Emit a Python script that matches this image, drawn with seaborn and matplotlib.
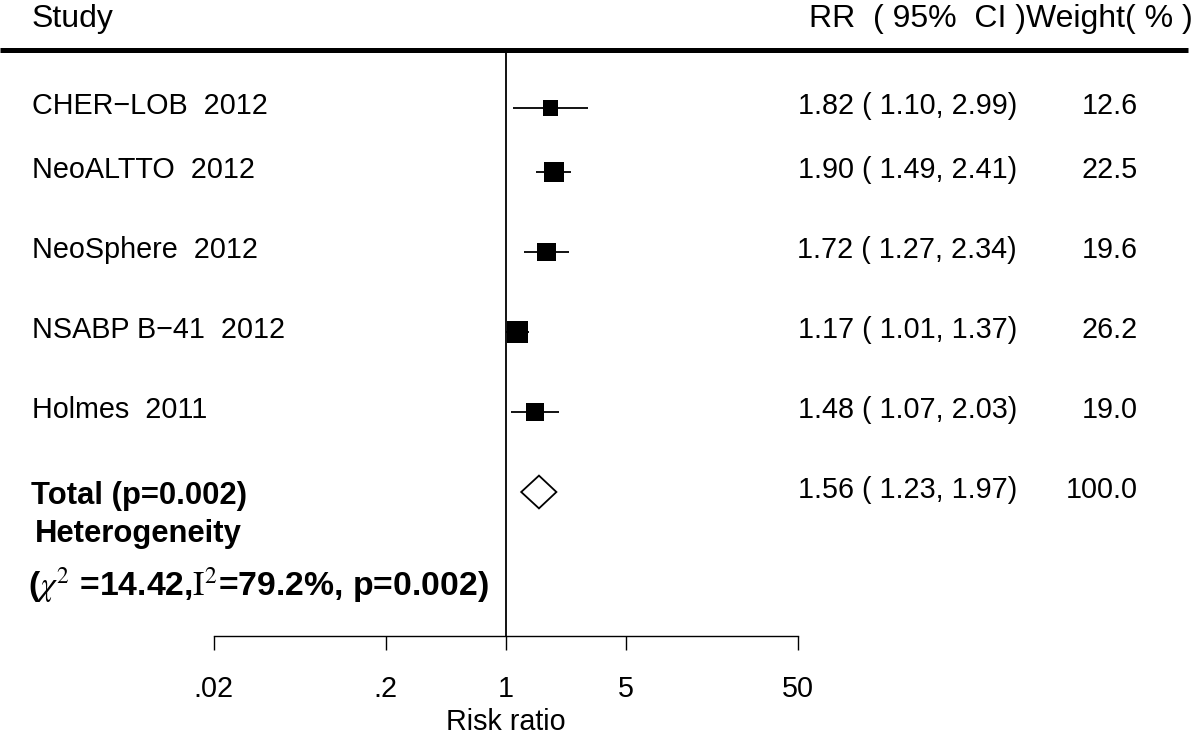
import numpy as np
import pandas as pd
import matplotlib
matplotlib.use("Agg")
import matplotlib.pyplot as plt
import matplotlib.transforms as mtransforms
from matplotlib.lines import Line2D
import seaborn as sns

# ---------------- data ----------------
studies = ["CHER\u2212LOB  2012", "NeoALTTO  2012", "NeoSphere  2012",
           "NSABP B\u221241  2012", "Holmes  2011"]
rr = [1.82, 1.90, 1.72, 1.17, 1.48]
ci_low = [1.10, 1.49, 1.27, 1.01, 1.07]
ci_high = [2.99, 2.41, 2.34, 1.37, 2.03]
weights = [12.6, 22.5, 19.6, 26.2, 19.0]

total_label = "Total (p=0.002)"
total_rr = 1.56
total_low = 1.23
total_high = 1.97
total_weight = 100.0
het_label = "Heterogeneity"
het_stats = r"($\chi^2$ =14.42,$\mathrm{I}^2$=79.2%, p=0.002)"

tick_values = [0.02, 0.2, 1, 5, 50]
tick_labels = [".02", ".2", "1", "5", "50"]
x_label = "Risk ratio"
header_left = "Study"
header_right = "RR  ( 95%  CI )Weight( % )"

# ---------------- style ----------------
sns.set_theme(style="white")
plt.rcParams["font.family"] = ["Liberation Sans", "DejaVu Sans"]
plt.rcParams["mathtext.fontset"] = "stix"
plt.rcParams["text.color"] = "black"
plt.rcParams["axes.labelcolor"] = "black"
plt.rcParams["xtick.color"] = "black"

W, H = 1200, 739
fig = plt.figure(figsize=(W / 100, H / 100), dpi=100)
fig.patch.set_facecolor("white")

# axes region (pixels): x from .02 -> 50, y from header rule to axis line
x0_px, x1_px = 213.5, 798.0
ytop_px, ybot_px = 50.0, 636.0
ax = fig.add_axes([x0_px / W, 1 - ybot_px / H, (x1_px - x0_px) / W, (ybot_px - ytop_px) / H])

# layout: row positions (units of 80 px, origin at first row)
row_y = [0.0, 0.8, 1.8, 2.8, 3.8]
total_y = 4.8
het_y = 5.33
stats_y = 5.97
ax.set_ylim((ybot_px - 108) / 80, (ytop_px - 108) / 80)

df = pd.DataFrame({"study": studies, "rr": rr, "lo": ci_low, "hi": ci_high,
                   "w": weights, "y": row_y})

ax.set_xscale("log")
ax.set_xlim(tick_values[0], tick_values[-1])

# reference line at 1
ax.axvline(1, color="black", lw=1.3, zorder=1)

# confidence intervals
ax.hlines(df["y"], df["lo"], df["hi"], color="black", lw=1.3, zorder=2)

# weighted squares
k = 9.36
sns.scatterplot(data=df, x="rr", y="y", size="w", marker="s",
                sizes=(k * min(weights), k * max(weights)),
                size_norm=(min(weights), max(weights)),
                color="black", edgecolor="none", linewidth=0,
                legend=False, ax=ax, zorder=3)

# pooled diamond
dh = 0.205
ax.fill([total_low, total_rr, total_high, total_rr],
        [total_y, total_y - dh, total_y, total_y + dh],
        facecolor="white", edgecolor="black", lw=1.3, zorder=3)

fs = 20.7

# axis styling
for s in ["top", "right", "left"]:
    ax.spines[s].set_visible(False)
ax.spines["bottom"].set_linewidth(1.0)
ax.spines["bottom"].set_color("black")
ax.set_yticks([])
ax.set_xticks(tick_values)
ax.set_xticklabels(tick_labels)
ax.xaxis.set_minor_locator(matplotlib.ticker.NullLocator())
ax.tick_params(axis="x", direction="out", length=10, width=1.0, color="black",
               labelsize=fs, pad=18, bottom=True)
ax.set_xlabel(x_label, fontsize=fs, labelpad=4)
ax.set_ylabel("")
ax.patch.set_alpha(0)

trans = mtransforms.blended_transform_factory(fig.transFigure, ax.transData)

# left study labels and right columns
for i, r in df.iterrows():
    ax.text(32 / W, r["y"] - 0.03, r["study"], transform=trans, ha="left",
            va="center", fontsize=fs, clip_on=False)
    ax.text(1017 / W, r["y"] - 0.03, f"{r['rr']:.2f} ( {r['lo']:.2f}, {r['hi']:.2f})",
            transform=trans, ha="right", va="center", fontsize=fs, clip_on=False)
    ax.text(1138 / W, r["y"] - 0.03, f"{r['w']:.1f}", transform=trans, ha="right",
            va="center", fontsize=fs, clip_on=False)

bfs = 22.3
ax.text(31 / W, total_y + 0.05, total_label, transform=trans, ha="left", va="center",
        fontsize=bfs, fontweight="bold", clip_on=False)
ax.text(1017 / W, total_y - 0.03, f"{total_rr:.2f} ( {total_low:.2f}, {total_high:.2f})",
        transform=trans, ha="right", va="center", fontsize=fs, clip_on=False)
ax.text(1138 / W, total_y - 0.03, f"{total_weight:.1f}", transform=trans, ha="right",
        va="center", fontsize=fs, clip_on=False)
ax.text(35 / W, het_y, het_label, transform=trans, ha="left", va="center",
        fontsize=bfs, fontweight="bold", clip_on=False)
ax.text(28 / W, stats_y, het_stats, transform=trans, ha="left", va="center",
        fontsize=24.3, fontweight="bold", clip_on=False)

# header
hfs = 23
fig.text(32 / W, 1 - 19 / H, header_left, ha="left", va="center", fontsize=hfs)
fig.text(1193 / W, 1 - 19 / H, header_right, ha="right", va="center", fontsize=hfs)
fig.add_artist(Line2D([0, 1188 / W], [1 - 50 / H, 1 - 50 / H], transform=fig.transFigure,
                      color="black", lw=3.6, solid_capstyle="butt"))

fig.savefig("out.png", dpi=100, facecolor="white")
